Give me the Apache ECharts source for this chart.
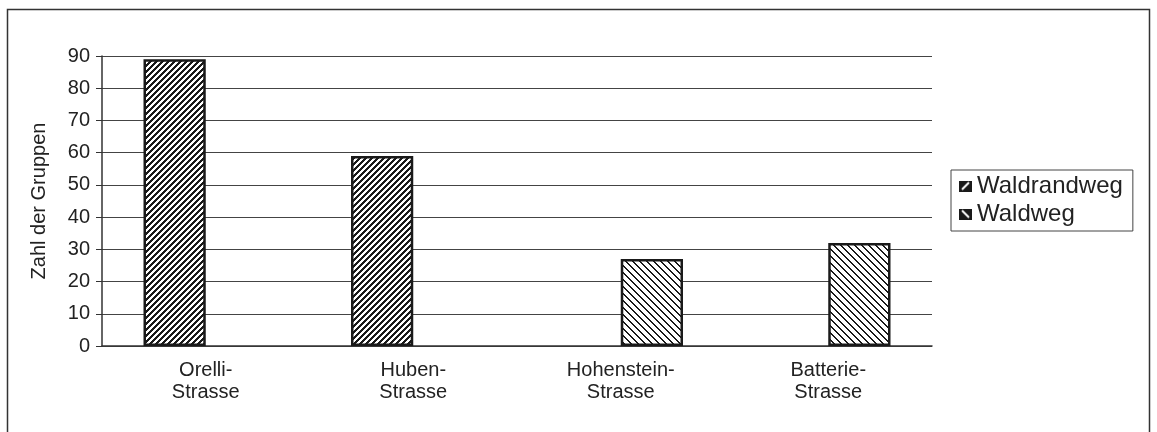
<!DOCTYPE html>
<html>
<head>
<meta charset="utf-8">
<script src="https://cdn.jsdelivr.net/npm/echarts@6/dist/echarts.min.js"></script>
<style>
html, body { margin: 0; padding: 0; background: #fff; }
#container { width: 1157px; height: 432px; }
</style>
</head>
<body>
<div id="container"></div>
<script>
var categories = ['Orelli-\nStrasse', 'Huben-\nStrasse', 'Hohenstein-\nStrasse', 'Batterie-\nStrasse'];
var waldrandweg = [89, 59, null, null];
var waldweg = [null, null, 27, 32];
var yTicks = [0, 10, 20, 30, 40, 50, 60, 70, 80, 90];

// hatch tile, drawn pixel by pixel so it stays crisp
function hatch( period, thick, dir ) {
	var c = document.createElement( 'canvas' );
	c.width = period;
	c.height = period;
	var ctx = c.getContext( '2d' );
	var img = ctx.createImageData( period, period );
	for ( var y = 0; y < period; y++ ) {
		for ( var x = 0; x < period; x++ ) {
			var k = dir > 0 ? ( x + y ) % period : ( ( x - y ) % period + period ) % period;
			var v = k < thick ? 26 : 255;
			var i = ( y * period + x ) * 4;
			img.data[i] = v;
			img.data[i + 1] = v;
			img.data[i + 2] = v;
			img.data[i + 3] = 255;
		}
	}
	ctx.putImageData( img, 0, 0 );
	return c;
}

// small legend marker: dark block with a white diagonal
function marker( dir ) {
	var c = document.createElement( 'canvas' );
	c.width = 13;
	c.height = 11;
	var ctx = c.getContext( '2d' );
	ctx.fillStyle = '#1a1a1a';
	ctx.fillRect( 0, 0, 13, 11 );
	ctx.strokeStyle = '#fff';
	ctx.lineWidth = 2;
	ctx.beginPath();
	if ( dir > 0 ) {
		ctx.moveTo( 3, 9 );
		ctx.lineTo( 10, 2 );
	} else {
		ctx.moveTo( 3, 2 );
		ctx.lineTo( 10, 9 );
	}
	ctx.stroke();
	return 'image://' + c.toDataURL();
}

var dom = document.getElementById( 'container' );
var myChart = echarts.init( dom );
var font = 'Liberation Sans, Arial, sans-serif';

var option = {
	backgroundColor: '#fff',
	animation: false,
	graphic: [
		{
			type: 'rect',
			shape: { x: 7.5, y: 9.5, width: 1142, height: 440 },
			style: { fill: 'none', stroke: '#333', lineWidth: 1.5 }
		}
	],
	grid: {
		left: 102,
		right: 225,
		top: 56,
		bottom: 86
	},
	legend: {
		orient: 'vertical',
		left: 951,
		top: 170,
		padding: [4, 10, 5, 8],
		itemGap: 4,
		itemWidth: 13,
		itemHeight: 11,
		borderColor: '#444',
		borderWidth: 1,
		borderRadius: 0,
		textStyle: { fontFamily: font, fontSize: 24, color: '#222' },
		data: [
			{ name: 'Waldrandweg', icon: marker( 1 ) },
			{ name: 'Waldweg', icon: marker( -1 ) }
		]
	},
	xAxis: {
		type: 'category',
		data: categories,
		axisLine: { lineStyle: { color: '#333', width: 1.5 } },
		axisTick: { length: 6, lineStyle: { color: '#333' } },
		axisLabel: { fontFamily: font, fontSize: 20, color: '#222', lineHeight: 22, margin: 13 }
	},
	yAxis: {
		type: 'value',
		min: 0,
		max: 90,
		interval: 10,
		name: 'Zahl der Gruppen',
		nameLocation: 'middle',
		nameGap: 53,
		nameTextStyle: { fontFamily: font, fontSize: 20, color: '#222' },
		axisLine: { show: true, lineStyle: { color: '#333', width: 1.5 } },
		axisTick: { show: true, length: 6, lineStyle: { color: '#333' } },
		axisLabel: {
			fontFamily: font, fontSize: 20, color: '#222', margin: 12,
			formatter: function( v ) { return yTicks.indexOf( v ) >= 0 ? String( v ) : ''; }
		},
		splitLine: { lineStyle: { color: '#444', width: 1.2 } }
	},
	series: [
		{
			name: 'Waldrandweg',
			type: 'bar',
			data: waldrandweg,
			barGap: '0%',
			barCategoryGap: '40%',
			itemStyle: {
				color: { image: hatch( 6, 3, 1 ), repeat: 'repeat' },
				borderColor: '#1a1a1a',
				borderWidth: 2.5
			}
		},
		{
			name: 'Waldweg',
			type: 'bar',
			data: waldweg,
			barGap: '0%',
			barCategoryGap: '40%',
			itemStyle: {
				color: { image: hatch( 7, 2, -1 ), repeat: 'repeat' },
				borderColor: '#1a1a1a',
				borderWidth: 2.5
			}
		}
	]
};

myChart.setOption( option, true );
</script>
</body>
</html>
